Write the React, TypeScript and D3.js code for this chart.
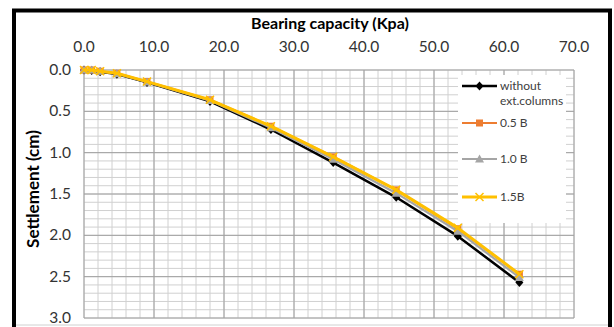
import * as d3 from "d3";

const load = [0, 1.1, 2.3, 4.7, 9.0, 18.0, 26.7, 35.6, 44.6, 53.4, 62.2];
const withoutCols = [0, 0.005, 0.02, 0.05, 0.15, 0.38, 0.72, 1.12, 1.54, 2.01, 2.57];
const half = [0, 0.0, 0.015, 0.04, 0.14, 0.36, 0.68, 1.05, 1.45, 1.92, 2.47];
const one = [0, 0.0, 0.015, 0.045, 0.145, 0.37, 0.70, 1.08, 1.49, 1.95, 2.51];
const oneHalf = [0, 0.0, 0.015, 0.04, 0.14, 0.36, 0.68, 1.05, 1.45, 1.91, 2.47];

const xTicks = [0, 10, 20, 30, 40, 50, 60, 70];
const yTicks = [0, 0.5, 1.0, 1.5, 2.0, 2.5, 3.0];

const series = [
  { name: ["without", "ext.columns"], values: withoutCols, color: "#000000", width: 2.5, marker: "diamond" },
  { name: ["0.5 B"], values: half, color: "#ED7D31", width: 2.2, marker: "square" },
  { name: ["1.0 B"], values: one, color: "#A5A5A5", width: 2.2, marker: "triangle" },
  { name: ["1.5B"], values: oneHalf, color: "#FFC000", width: 3, marker: "x" },
];

const font = "Lato, 'Open Sans', sans-serif";

function Marker({ kind, x, y, color }: { kind: string; x: number; y: number; color: string }) {
  if (kind === "diamond") {
    return <path d={`M${x},${y - 4.5}L${x + 4},${y}L${x},${y + 4.5}L${x - 4},${y}Z`} fill={color} />;
  }
  if (kind === "square") {
    return <rect x={x - 3.5} y={y - 3.5} width={7} height={7} fill={color} />;
  }
  if (kind === "triangle") {
    return <path d={`M${x},${y - 4.5}L${x + 4.5},${y + 3.5}L${x - 4.5},${y + 3.5}Z`} fill={color} />;
  }
  return (
    <path d={`M${x - 4},${y - 4}L${x + 4},${y + 4}M${x - 4},${y + 4}L${x + 4},${y - 4}`} stroke={color} strokeWidth={1.5} />
  );
}

export default function App() {
  const width = 614;
  const height = 327;
  const plot = { left: 84, right: 574, top: 70, bottom: 318 };
  const x = d3.scaleLinear().domain([0, 70]).range([plot.left, plot.right]);
  const y = d3.scaleLinear().domain([0, 3]).range([plot.top, plot.bottom]);
  const line = d3
    .line<number>()
    .x((_, i) => x(load[i]))
    .y((v) => y(v));

  const xMinor = d3.range(0, 70.01, 2);
  const yMinor = d3.range(0, 3.001, 0.1);
  const legend = { x: 458, y: 75, w: 108, h: 148 };
  const legendRows = [86, 123, 159, 197];

  return (
    <svg width={width} height={height} style={{ position: "absolute", left: 0, top: 0, background: "#fff" }} fontFamily={font}>
      <rect x={0} y={0} width={width} height={height} fill="#fff" />
      {/* grid */}
      {yMinor.map((t) => (
        <line key={`ym${t}`} x1={plot.left} x2={plot.right} y1={y(t)} y2={y(t)} stroke="#d0d0d0" strokeWidth={1} />
      ))}
      {xMinor.map((t) => (
        <line key={`xm${t}`} x1={x(t)} x2={x(t)} y1={plot.top} y2={plot.bottom} stroke="#d0d0d0" strokeWidth={1} />
      ))}
      {yTicks.map((t) => (
        <line key={`yM${t}`} x1={plot.left} x2={plot.right} y1={y(t)} y2={y(t)} stroke="#a0a0a0" strokeWidth={1} />
      ))}
      {xTicks.map((t) => (
        <line key={`xM${t}`} x1={x(t)} x2={x(t)} y1={plot.top} y2={plot.bottom} stroke="#a0a0a0" strokeWidth={1} />
      ))}
      {/* legend box */}
      <rect x={legend.x} y={legend.y} width={legend.w} height={legend.h} fill="#fff" />
      {/* series */}
      {series.map((s) => (
        <g key={s.name.join(" ")}>
          <path d={line(s.values) ?? ""} fill="none" stroke={s.color} strokeWidth={s.width} strokeLinejoin="round" />
          {s.values.map((v, i) => (
            <Marker key={i} kind={s.marker} x={x(load[i])} y={y(v)} color={s.color} />
          ))}
        </g>
      ))}
      {/* legend entries */}
      {series.map((s, i) => (
        <g key={`lg${i}`}>
          <line x1={462} x2={497} y1={legendRows[i]} y2={legendRows[i]} stroke={s.color} strokeWidth={s.width} />
          <Marker kind={s.marker} x={479.5} y={legendRows[i]} color={s.color} />
          {s.name.map((n, j) => (
            <text key={n} x={500} y={legendRows[i] + 4 + j * 15} fontSize={12} fill="#404040">
              {n}
            </text>
          ))}
        </g>
      ))}
      {/* tick labels */}
      {xTicks.map((t) => (
        <text key={`xl${t}`} x={x(t)} y={52} textAnchor="middle" fontSize={15.5} fill="#333">
          {t.toFixed(1)}
        </text>
      ))}
      {yTicks.map((t) => (
        <text key={`yl${t}`} x={71} y={y(t) + 5} textAnchor="end" fontSize={15.5} fill="#333">
          {t.toFixed(1)}
        </text>
      ))}
      <text x={330} y={29} textAnchor="middle" fontSize={16} fontWeight="bold" fill="#000">
        Bearing capacity (Kpa)
      </text>
      <text transform={`translate(39, ${189}) rotate(-90)`} textAnchor="middle" fontSize={17} fontWeight="bold" fill="#000">
        Settlement (cm)
      </text>
      {/* frame */}
      <line x1={16} x2={609} y1={325} y2={325} stroke="#d0d0d0" />
      <rect x={14} y={10.5} width={596} height={340} fill="none" stroke="#000" strokeWidth={4} />
    </svg>
  );
}
